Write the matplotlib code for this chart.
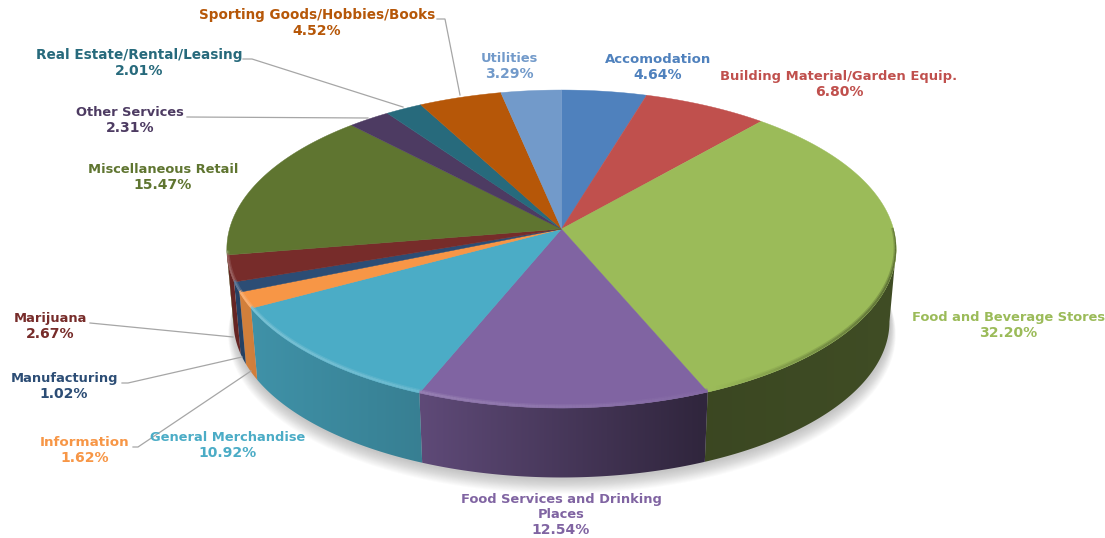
import numpy as np
import matplotlib
matplotlib.use("Agg")
import matplotlib.pyplot as plt
from matplotlib.collections import LineCollection
from matplotlib.colors import to_rgb
from matplotlib.patches import Polygon

categories = ["Accomodation", "Building Material/Garden Equip.", "Food and Beverage Stores",
              "Food Services and Drinking\nPlaces", "General Merchandise", "Information",
              "Manufacturing", "Marijuana", "Miscellaneous Retail", "Other Services",
              "Real Estate/Rental/Leasing", "Sporting Goods/Hobbies/Books", "Utilities"]
values = [4.64, 6.80, 32.20, 12.54, 10.92, 1.62, 1.02, 2.67, 15.47, 2.31, 2.01, 4.52, 3.29]
colors = ["#4F81BD", "#C0504D", "#9BBB59", "#8064A2", "#4BACC6", "#F79646", "#2C4D75",
          "#772C2A", "#5F7530", "#4D3B62", "#276A7C", "#B65708", "#729ACA"]

# layout (pixel positions on the canvas: centre x, centre y of the percentage line)
label_xy = [(658, 75), (839, 92), (1008, 333), (561, 530), (228, 453), (85, 458), (64, 394),
            (50, 334), (163, 185), (130, 128), (139, 71), (317, 31), (509, 74)]
name_size = [9.5, 9.45, 9.4, 9.4, 9.4, 9.7, 9.4, 9.4, 9.4, 9.4, 9.85, 9.75, 9.4]
leaders = [[(90, 323), (233, 337)],
           [(122, 383), (128, 383), (242, 357)],
           [(133, 447), (138, 447), (251, 371)],
           [(187, 117), (368, 118)],
           [(243, 59), (252, 59), (403, 107)],
           [(437, 19), (445, 19), (460, 95)]]

APEX_X, APEX_Y = 561.5, 229
B, A, K = 332.0, 156.5, 0.126
DEPTH, SHRINK = 73, 0.98
FRONT_START, FRONT_END = np.radians(97.2), np.radians(262.8)


def project(theta, scale=1.0, dy=0.0):
    u, v = np.sin(theta), np.cos(theta)
    w = 1 + K * v
    return APEX_X + scale * B * u / w, APEX_Y + dy - scale * A * v / w


def side_factor(x):
    return np.interp(x, [230, 420, 700, 890], [0.86, 0.74, 0.38, 0.41])


def rim_color(rgb, x):
    t = np.interp(x, [240, 420, 700, 890], [0.30, 0.20, 0.04, -0.45])
    c = np.array(rgb)
    return tuple(np.clip(c + t * (1 - c), 0, 1)) if t > 0 else tuple(c * (1 + t))


fig = plt.figure(figsize=(11.05, 5.38), dpi=100, facecolor="white")
ax = fig.add_axes([0, 0, 1, 1])
ax.axis("off")

# soft drop shadow beneath the pie
full = np.linspace(0, 2 * np.pi, 721)
for i in range(16, 0, -1):
    sx, sy = project(full, SHRINK * (1 + 0.0011 * i), DEPTH + 1 + 0.75 * i)
    ax.fill(sx + 0.5, sy, color="#707070", alpha=0.028, lw=0, zorder=1)

edges = np.radians(np.concatenate([[0], np.cumsum(values)]) / np.sum(values) * 360)

# side wall: one horizontal gradient per slice, clipped to the slice's wall
for a0, a1, col in zip(edges[:-1], edges[1:], colors):
    lo, hi = max(a0, FRONT_START), min(a1, FRONT_END)
    if hi <= lo:
        continue
    rgb = np.array(to_rgb(col))
    t = np.linspace(lo, hi, 120)
    xt, yt = project(t)
    xb, yb = project(t, SHRINK, DEPTH)
    px = np.r_[xt, xb[::-1]]
    py = np.r_[yt, yb[::-1]]
    x0, x1 = px.min() - 1, px.max() + 1
    xs = np.linspace(x0, x1, 300)
    grad = (rgb[None, :] * side_factor(xs)[:, None])[None, :, :]
    im = ax.imshow(grad, extent=(x0, x1, py.max() + 1, py.min() - 1), aspect="auto",
                   interpolation="bilinear", zorder=2)
    im.set_clip_path(Polygon(np.c_[px, py], closed=True, transform=ax.transData))

ax.set_xlim(0, 1105)
ax.set_ylim(538, 0)

# top face
for a0, a1, col in zip(edges[:-1], edges[1:], colors):
    t = np.linspace(a0, a1, max(3, int(np.degrees(a1 - a0) * 2)))
    xt, yt = project(t)
    ax.fill(np.r_[APEX_X, xt], np.r_[APEX_Y, yt], color=col, lw=0.3, zorder=3)

# bevel along the front rim, kept inside the top face
segs, scol = [], []
for a0, a1, col in zip(edges[:-1], edges[1:], colors):
    rgb = to_rgb(col)
    t = np.linspace(a0, a1, max(3, int(np.degrees(a1 - a0) * 2)))
    t = t[(t > np.radians(90)) & (t < np.radians(262))]
    if len(t) < 2:
        continue
    xt, yt = project(t)
    for i in range(len(t) - 1):
        segs.append([(xt[i], yt[i] - 1.5), (xt[i + 1], yt[i + 1] - 1.5)])
        scol.append(rim_color(rgb, xt[i]))
outline = Polygon(np.c_[project(full)], closed=True, transform=ax.transData)
for lw, al in [(3.6, 0.4), (1.6, 0.8)]:
    lc = LineCollection(segs, colors=scol, linewidths=lw, alpha=al, zorder=4, capstyle="butt")
    ax.add_collection(lc)
    lc.set_clip_path(outline)

# leader lines
for pts in leaders:
    ax.plot(*zip(*pts), color="#a6a6a6", lw=0.9, zorder=5, solid_joinstyle="miter")

# labels
for name, val, col, (lx, ly), fs in zip(categories, values, colors, label_xy, name_size):
    n = name.count("\n") + 1
    ax.text(lx, ly - 8 * (n + 1) + 0.5, name, color=col, ha="center", va="center", fontsize=fs,
            fontweight="bold", family="DejaVu Sans", linespacing=1.2, zorder=6)
    ax.text(lx, ly, f"{val:.2f}%", color=col, ha="center", va="center", fontsize=10.1,
            fontweight="bold", family="DejaVu Sans", zorder=6)

fig.savefig("out.png", dpi=100, facecolor="white")
